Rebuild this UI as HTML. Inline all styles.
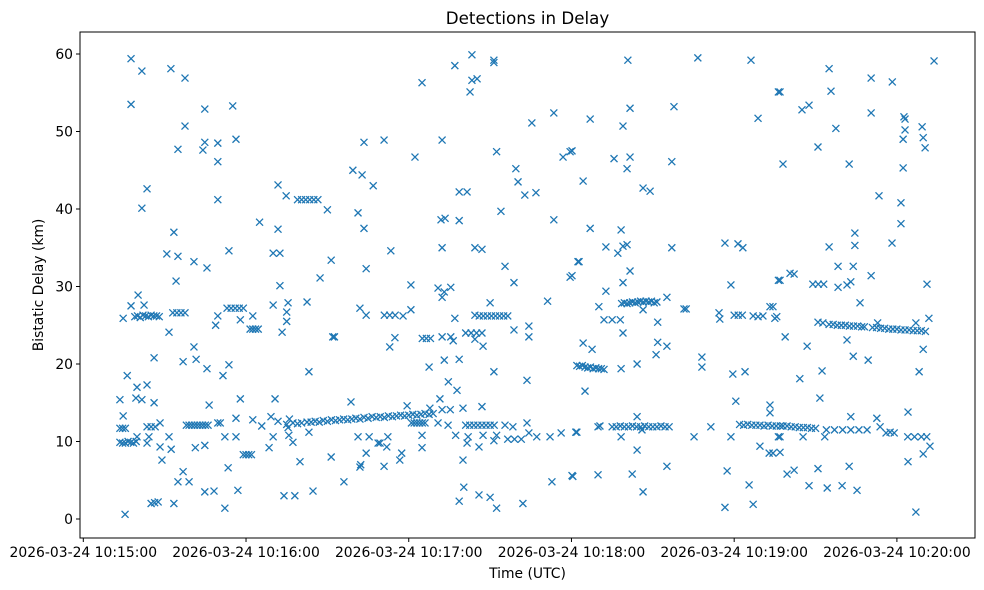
<!DOCTYPE html>
<html><head><meta charset="utf-8"><style>
body{margin:0;background:#fff}
svg{display:block;font-family:"DejaVu Sans","Liberation Sans",sans-serif}
</style></head><body>
<svg id="chart" width="984" height="590" viewBox="0 0 984 590" xmlns="http://www.w3.org/2000/svg">
<rect x="0" y="0" width="984" height="590" fill="#fff"/>
<text x="527.5" y="24" font-size="16.7" text-anchor="middle">Detections in Delay</text>
<text x="527.5" y="578" font-size="13.9" text-anchor="middle">Time (UTC)</text>
<text x="0" y="0" font-size="13.9" text-anchor="middle" transform="translate(43,285) rotate(-90)">Bistatic Delay (km)</text>
<g id="marks"></g>
<g id="axes"></g>
</svg>
<script>
// seconds after 10:15:00 UTC, bistatic delay in km
const detections = [
[17.6,59.4],[21.6,57.8],[32.3,58.1],[37.5,56.9],[17.6,53.5],[44.8,52.9],[55.1,53.3],[37.5,50.7],[34.9,47.7],[44.8,48.6],[44.1,47.6],[49.6,48.5],[49.6,46.1],[56.3,49.0],[23.5,42.6],[21.6,40.1],[49.6,41.2],[33.4,37.0],[30.8,34.2],[34.9,33.9],[40.8,33.2],[45.6,32.4],[53.7,34.6],[34.2,30.7],[20.2,28.9],[17.6,27.5],[22.4,27.6],[14.7,25.9],
[19,26.1],[20,26.2],[21,26.0],[22,26.3],[23,26.2],[24,26.1],[25,26.3],[26,26.2],[27,26.2],[28,26.1],
[33,26.6],[34.5,26.6],[36,26.6],[37.5,26.6],[31.6,24.1],[49.6,26.2],[48.8,25.0],
[53,27.2],[54.5,27.2],[56,27.2],[57.5,27.2],[59,27.2],[57.9,25.7],[62.5,26.2],
[61.5,24.5],[62.5,24.5],[63.5,24.5],[64.5,24.5],[70,27.6],[75.5,27.9],[75,26.7],[75,25.5],[73.3,24.1],
[71.8,43.1],[74.8,41.7],[79,41.2],[80.5,41.2],[82,41.2],[83.5,41.2],[85,41.2],[86.5,41.2],[90,39.9],[65,38.3],[71.8,37.4],[70,34.3],[72.5,34.3],[72.5,30.1],[82.5,28.0],[91.4,33.4],[87.3,31.1],[92,23.5],[92.6,23.5],
[103.5,48.6],[99.4,45.0],[102.8,44.4],[106.9,43.0],[101.3,39.5],[103.5,37.5],[104.3,32.3],[102,27.2],[104.3,26.3],
[40.8,22.2],[26.1,20.8],[36.8,20.3],[41.6,20.6],[45.6,19.4],[53.7,19.9],[51.5,18.5],[16.2,18.5],[19.8,17.0],[23.5,17.3],[13.5,15.4],[19.4,15.6],[21.6,15.4],[26.1,15.0],[46.4,14.7],[57.9,15.5],[70.7,15.5],[83.2,19.0],[98.7,15.1],
[14.7,13.3],[13.5,11.7],[14.5,11.7],[15.5,11.7],[23.5,11.9],[25,11.9],[26.5,11.9],[28.3,12.4],
[38,12.1],[39,12.1],[40,12.1],[41,12.1],[42,12.1],[43,12.1],[44,12.1],[45,12.1],[46,12.1],
[49.6,12.4],[50.5,12.4],[56.3,13.0],[62.5,12.8],[65.8,12.0],[69.2,13.2],[71.8,12.6],[75,12.2],[76,12.9],[77.3,12.4],[75.5,11.8],[82.5,12.5],[79,12.3],[80.5,12.4],
[84,12.5],[85.5,12.6],[87,12.5],[88.5,12.7],[90,12.6],[91.5,12.8],[93,12.7],[94.5,12.8],[96,12.9],[97.5,12.8],[99,12.9],[100.5,13.0],[102,12.9],[103.5,13.1],[105,13.0],[106.5,13.2],[108,13.1],[109.5,13.2],[111,13.1],[112.5,13.3],[114,13.2],[115.5,13.3],[117,13.4],[118.5,13.3],[120,13.4],[121.5,13.5],[123,13.4],[124.5,13.5],[126,13.6],[127.5,13.5],[129,13.6],
[13.5,9.9],[14.5,9.8],[15.5,9.8],[16.5,10.0],[17.5,9.9],[18.5,9.8],[19.5,10.0],[19.8,10.6],[24.2,10.6],[23.5,9.8],
[28.3,9.3],[31.6,10.6],[32.4,9.0],[29,7.6],[41.3,9.2],[44.8,9.5],[52.2,10.6],[56.3,10.6],[59,8.3],[60,8.3],[61,8.3],[62,8.3],[68.5,9.2],[70,10.6],[75.8,10.8],[77.3,9.9],[83.2,11.2],[79.9,7.4],[91.4,8.0],[101.3,10.6],[105.4,10.6],[108.7,9.8],[104.3,8.5],[102,6.7],[102.3,7.0],[96.1,4.8],[53.4,6.6],[36.8,6.1],[34.9,4.8],[39,4.8],[44.8,3.5],[48.2,3.6],[57.0,3.7],[74,3.0],[78,3.0],[84.7,3.6],[15.4,0.6],[25,2.0],[26.3,2.1],[27.6,2.2],[33.4,2.0],[52.2,1.4],
[143.3,59.9],[137.0,58.5],[151.4,59.2],[151.4,58.9],[143.3,56.6],[145.2,56.8],[142.6,55.1],[124.9,56.3],[110.9,48.9],[132.3,48.9],[122.3,46.7],[152.4,47.4],[165.4,51.1],[173.5,52.4],[176.9,46.7],[179.5,47.4],[159.5,45.2],[160.3,43.5],[162.8,41.8],[166.9,42.1],[138.6,42.2],[141.5,42.2],[131.9,38.6],[133.4,38.8],[138.6,38.5],[154.0,39.7],[173.5,38.6],[113.4,34.6],[132.3,35.0],[144.4,35.0],[147.0,34.8],[155.5,32.6],[158.8,30.5],[120.8,30.2],[130.8,29.8],[135.5,29.9],[132.3,28.6],[133.1,29.3],[179.5,31.2],[182.4,33.2],[171.2,28.1],[150,27.9],
[111,26.3],[113,26.3],[115,26.3],[117.9,26.2],[120.8,27.0],[113,22.2],[114.9,23.4],[125,23.3],[126.5,23.3],[128,23.3],[132.3,23.5],[135.5,23.5],[136.4,23.0],[137.0,25.9],[144.4,26.3],
[146,26.2],[147.5,26.2],[149,26.2],[150.5,26.2],[152,26.2],[153.5,26.2],[155,26.2],[156.5,26.2],[141,24.0],[143,24.0],[145,24.0],[147,24.0],[144.4,23.2],[147.4,22.3],[158.8,24.4],[164.3,24.9],[164.3,23.5],
[127.5,19.6],[133.1,20.5],[138.6,20.6],[134.6,17.7],[137.8,16.6],[151.4,19.0],[163.6,17.9],[131.5,15.5],[119.4,14.6],[127.8,14.3],[132.3,14.1],[135.3,14.1],[140,14.3],[147,14.5],
[121,12.4],[122,12.4],[123,12.4],[124,12.4],[125,12.4],[126,12.4],[130.8,12.4],[134.5,12.1],[141,12.1],[142.5,12.1],[144,12.1],[145.5,12.1],[147,12.1],[148.5,12.1],[150,12.1],[151.5,12.1],[155.5,12.1],[158.4,11.9],[163.6,12.4],
[109.4,9.8],[112.3,10.6],[111.9,9.3],[124.9,10.8],[124.9,9.2],[137.3,10.8],[141.5,9.8],[141.9,10.6],[145.9,9.3],[147.4,10.8],[151.4,10.1],[152.4,10.8],[156.5,10.3],[159,10.3],[161.5,10.3],[164.3,11.1],[167.2,10.6],[172.1,10.6],[176.2,11.1],[182,11.2],[117.4,8.5],[116.7,7.6],[110.9,6.8],[140,7.6],[140.3,4.1],[138.6,2.3],[145.9,3.1],[150,2.8],[152.4,1.4],[162.1,2.0],[172.8,4.8],[180.2,5.6],
[200.8,59.2],[226.6,59.5],[246.2,59.2],[256.3,55.1],[201.6,53.0],[199,50.7],[217.8,53.2],[186.9,51.6],[248.8,51.7],[180.2,47.5],[195.7,46.5],[201.6,46.7],[200.5,45.2],[217,46.1],[184.3,43.6],[206.4,42.7],[209,42.3],[186.9,37.5],[198.3,37.3],[192.7,35.1],[197.1,34.3],[199,35.2],[200.5,35.4],[217,35.0],[236.6,35.6],[241.4,35.5],[243.2,35.0],[182.8,33.2],[180.2,31.4],[201.6,32.0],[199,30.5],[192.7,29.4],[238.8,30.2],[256.3,30.8],
[198.5,27.8],[199.5,27.9],[200.5,27.8],[201.5,27.9],[202.5,28.0],[203.5,27.9],[204.5,28.0],[205.5,28.1],[206.5,28.0],[207.5,28.1],[208.5,28.0],[209.5,28.1],[210.5,27.9],[211.5,28.0],[206.4,27.0],[215.2,28.6],[190.1,27.4],[192,25.7],[195,25.7],[198,25.7],[199,24.0],[211.8,25.4],[221.5,27.1],[222.3,27.1],[234.4,26.6],[234.7,25.8],[240,26.3],[241.5,26.3],[243,26.3],[247,26.2],[248.8,26.1],[250.6,26.2],[253.2,27.4],[255,25.9],
[184.3,22.7],[187.6,21.9],[211.8,22.8],[215.2,22.3],[211.2,21.2],
[182,19.8],[183,19.7],[184,19.8],[185,19.6],[186,19.5],[187,19.6],[188,19.4],[189,19.5],[190,19.4],[191,19.4],[192,19.3],[198.3,19.4],[204.2,20.0],[228.1,20.9],[228.1,19.6],[239.5,18.7],[244,19.0],[185,16.5],[240.6,15.2],
[181.6,11.2],[189.8,11.9],[190.5,12.0],[195,11.9],[196.5,11.9],[198,12.0],[199.5,11.9],[201,11.9],[202.5,12.0],[204,11.9],[205.5,11.9],[207,12.0],[208.5,11.9],[210,11.9],[211.5,11.9],[213,12.0],[214.5,11.9],[216,11.9],[204.2,13.2],[198.3,10.6],[206,11.5],[225.2,10.6],[231.4,11.9],[238.8,10.6],
[242,12.2],[243.5,12.1],[245,12.2],[246.5,12.1],[248,12.1],[249.5,12.1],[251,12.0],[252.5,12.1],[254,12.0],[255.5,12.0],[257,12.0],[253.2,13.7],[249.5,9.4],[252.9,8.5],[256.3,10.6],[204.2,8.9],[180.5,5.5],[189.8,5.7],[202.4,5.8],[215.2,6.8],[206.4,3.5],[237.4,6.2],[245.5,4.4],[236.6,1.5],[247,1.9],
[313.7,59.1],[275,58.1],[290.5,56.9],[298.3,56.4],[256.9,55.1],[275.7,55.2],[265,52.8],[267.6,53.4],[290.5,52.4],[302.6,51.9],[303,51.6],[303,50.2],[302.3,49.0],[309.3,50.6],[309.7,49.2],[310.4,47.9],[277.5,50.4],[270.9,48.0],[258,45.8],[282.4,45.8],[302.3,45.3],[293.4,41.7],[301.5,40.8],[301.5,38.1],[298.2,35.6],[284.5,36.9],[284.5,35.3],[275,35.1],[278.3,32.6],[283.9,32.6],[290.5,31.4],[256.9,30.8],[260.6,31.7],[262.1,31.6],[269,30.3],[271,30.3],[273,30.3],[278.3,29.9],[281.6,30.2],[283,30.6],[311.1,30.3],[286.4,27.9],[254.3,27.4],[255.7,26.1],
[270.9,25.4],[272.7,25.3],[275,25.1],[276.5,25.1],[278,25.0],[279.5,25.0],[281,25.0],[282.5,24.9],[284,24.9],[285.5,24.9],[287,24.8],[288,24.8],[292.9,25.3],[307,25.3],[311.8,25.9],
[291,24.7],[292.5,24.7],[294,24.6],[295.5,24.6],[297,24.5],[298.5,24.5],[300,24.5],[301.5,24.4],[303,24.4],[304.5,24.4],[306,24.3],[307.5,24.3],[309,24.3],[310.5,24.2],
[258.8,23.5],[266.9,22.3],[281.6,23.1],[283.9,21.0],[289.4,20.5],[309.7,21.9],[308.2,19.0],[272.4,19.1],[264.2,18.1],[271.6,15.6],
[258,12.0],[259.5,12.0],[261,11.9],[262.5,11.9],[264,11.8],[265.5,11.8],[267,11.8],[268.5,11.7],[270,11.7],[253.2,14.7],[283,13.2],[292.6,13.0],[304.1,13.8],
[274,11.5],[277,11.5],[280,11.5],[283,11.5],[286,11.5],[289,11.5],[293.8,11.9],[296,11.1],[297.5,11.2],[299,11.1],[304,10.6],[306.5,10.6],[309,10.6],[311,10.6],[312.2,9.4],[309.7,8.4],[304.1,7.4],
[256.9,10.6],[265.4,10.6],[273.4,10.6],[254.3,8.5],[256.9,8.6],[259.5,5.8],[262.1,6.3],[270.9,6.5],[282.4,6.8],[267.6,4.3],[274.3,4.0],[279.8,4.3],[285.3,3.7],[307,0.9]
];
const yTicks = [0,10,20,30,40,50,60];
const xTickSeconds = [0,60,120,180,240,300];
const xTickLabels = ["2026-03-24 10:15:00","2026-03-24 10:16:00","2026-03-24 10:17:00","2026-03-24 10:18:00","2026-03-24 10:19:00","2026-03-24 10:20:00"];

const NS="http://www.w3.org/2000/svg";
const PL=80,PR=975,PT=32,PB=538;
function xs(t){return 83.3+t*2.712;}
function ys(d){return 519-d*7.75;}
function mk(tag,attrs,parent){const e=document.createElementNS(NS,tag);for(const k in attrs)e.setAttribute(k,attrs[k]);parent.appendChild(e);return e;}

const marks=document.getElementById('marks');
detections.forEach((p,i)=>{
  const x=xs(p[0]),y=ys(p[1]),r=3.5;
  const g=mk('path',{d:`M${x-r},${y-r}L${x+r},${y+r}M${x-r},${y+r}L${x+r},${y-r}`,stroke:'#1f77b4','stroke-width':1.3,fill:'none'},marks);
  
  
});

const axes=document.getElementById('axes');
const frame=mk('rect',{x:PL,y:PT,width:PR-PL,height:PB-PT,fill:'none',stroke:'#000','stroke-width':1},axes);


yTicks.forEach(v=>{
  const y=ys(v);
  mk('line',{x1:PL-4,x2:PL,y1:y,y2:y,stroke:'#000','stroke-width':1},axes);
  const t=mk('text',{x:PL-7,y:y+5,'font-size':13.9,'text-anchor':'end'},axes);
  t.textContent=v;
  
  
});
xTickSeconds.forEach((s,i)=>{
  const x=xs(s);
  mk('line',{x1:x,x2:x,y1:PB,y2:PB+4,stroke:'#000','stroke-width':1},axes);
  const t=mk('text',{x:x,y:PB+19,'font-size':13.9,'text-anchor':'middle'},axes);
  t.textContent=xTickLabels[i];
  
  
});
</script>
</body></html>
